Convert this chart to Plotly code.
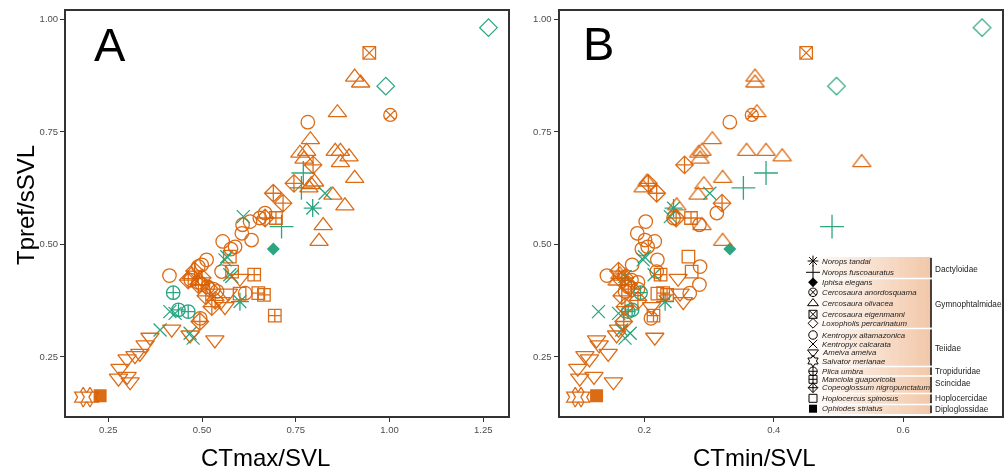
import plotly.graph_objects as go

# ---------------- data (per species) ----------------
# y = Tpref/sSVL, ctmax = CTmax/SVL, ctmin = CTmin/SVL
tandai_tpref = [0.580, 0.372]
tandai_ctmax = [0.795, 0.601]
tandai_ctmin = [0.245, 0.232]

fusco_tpref = [0.658, 0.625, 0.539]
fusco_ctmax = [0.770, 0.765, 0.712]
fusco_ctmin = [0.388, 0.353, 0.490]

iphisa_tpref = [0.489]
iphisa_ctmax = [0.690]
iphisa_ctmin = [0.332]

anordo_tpref = [0.787]
anordo_ctmax = [1.002]
anordo_ctmin = [0.366]

olivacea_tpref = [0.871, 0.858, 0.792, 0.732, 0.706, 0.706, 0.706, 0.702, 0.694, 0.689, 0.681,
                  0.646, 0.638, 0.632, 0.625, 0.609, 0.585, 0.541, 0.506, 0.432, 0.418]
olivacea_ctmax = [0.907, 0.923, 0.861, 0.789, 0.779, 0.855, 0.869, 0.761, 0.892, 0.772, 0.869,
                  0.907, 0.800, 0.791, 0.785, 0.849, 0.881, 0.823, 0.812, 0.472, 0.494]
olivacea_ctmin = [0.371, 0.371, 0.374, 0.305, 0.289, 0.358, 0.388, 0.284, 0.413, 0.286, 0.536,
                  0.321, 0.204, 0.292, 0.198, 0.283, 0.250, 0.289, 0.321, 0.162, 0.158]

eigen_tpref = [0.925]
eigen_ctmax = [0.946]
eigen_ctmin = [0.450]

loxo_tpref = [0.981, 0.851]
loxo_ctmax = [1.264, 0.990]
loxo_ctmin = [0.722, 0.497]

altam_tpref = [0.771, 0.569, 0.558, 0.550, 0.543, 0.524, 0.509, 0.506, 0.494, 0.489, 0.465, 0.454,
               0.450, 0.439, 0.430, 0.420, 0.415, 0.410, 0.405, 0.400, 0.395, 0.391, 0.335]
altam_ctmax = [0.782, 0.668, 0.654, 0.628, 0.608, 0.606, 0.632, 0.555, 0.588, 0.577, 0.512, 0.499,
               0.490, 0.552, 0.413, 0.470, 0.490, 0.500, 0.515, 0.530, 0.540, 0.615, 0.495]
altam_ctmin = [0.332, 0.312, 0.245, 0.202, 0.285, 0.189, 0.201, 0.216, 0.205, 0.196, 0.220, 0.181,
               0.286, 0.219, 0.142, 0.180, 0.190, 0.285, 0.175, 0.190, 0.170, 0.270, 0.210]

calc_tpref = [0.613, 0.561, 0.472, 0.465, 0.432, 0.428, 0.350, 0.346, 0.309, 0.302, 0.291]
calc_ctmax = [0.828, 0.610, 0.566, 0.561, 0.574, 0.579, 0.414, 0.428, 0.388, 0.468, 0.476]
calc_ctmin = [0.301, 0.240, 0.200, 0.198, 0.215, 0.170, 0.129, 0.160, 0.165, 0.178, 0.170]

ameiva_tpref = [0.424, 0.391, 0.372, 0.361, 0.311, 0.298, 0.293, 0.287, 0.276, 0.257, 0.252,
                0.245, 0.224, 0.206, 0.202, 0.194]
ameiva_ctmax = [0.601, 0.570, 0.550, 0.561, 0.419, 0.468, 0.361, 0.534, 0.348, 0.334, 0.321,
                0.300, 0.281, 0.300, 0.277, 0.308]
ameiva_ctmin = [0.252, 0.255, 0.260, 0.211, 0.160, 0.157, 0.216, 0.126, 0.130, 0.144, 0.108,
                0.115, 0.097, 0.122, 0.100, 0.152]

salvator_tpref = [0.160, 0.160]
salvator_ctmax = [0.183, 0.201]
salvator_ctmin = [0.093, 0.102]

plica_tpref = [0.392, 0.354, 0.350]
plica_ctmax = [0.423, 0.437, 0.463]
plica_ctmin = [0.194, 0.181, 0.175]

manciola_tpref = [0.558, 0.432, 0.391, 0.387, 0.341]
manciola_ctmax = [0.697, 0.639, 0.650, 0.665, 0.694]
manciola_ctmin = [0.272, 0.225, 0.229, 0.235, 0.214]

copeo_tpref = [0.676, 0.635, 0.613, 0.591, 0.558, 0.440, 0.425, 0.420, 0.410, 0.400, 0.385,
               0.375, 0.361, 0.328]
copeo_ctmax = [0.796, 0.745, 0.690, 0.716, 0.668, 0.480, 0.500, 0.463, 0.490, 0.520, 0.510,
               0.535, 0.526, 0.494]
copeo_ctmin = [0.262, 0.206, 0.219, 0.320, 0.249, 0.160, 0.170, 0.165, 0.175, 0.180, 0.165,
               0.190, 0.170, 0.168]

hoplo_tpref = [0.472, 0.439, 0.390]
hoplo_ctmax = [0.574, 0.580, 0.600]
hoplo_ctmin = [0.268, 0.273, 0.220]

ophiodes_tpref = [0.163]
ophiodes_ctmax = [0.228]
ophiodes_ctmin = [0.126]

species_names = ["Norops tandai", "Norops fuscoauratus", "Iphisa elegans", "Cercosaura anordosquama",
                 "Cercosaura olivacea", "Cercosaura eigenmanni", "Loxopholis percarinatum",
                 "Kentropyx altamazonica", "Kentropyx calcarata", "Ameiva ameiva", "Salvator merianae",
                 "Plica umbra", "Manciola guaporicola", "Copeoglossum nigropunctatum",
                 "Hoplocercus spinosus", "Ophiodes striatus"]
families = ["Dactyloidae", "Gymnophtalmidae", "Teiidae", "Tropiduridae", "Scincidae",
            "Hoplocercidae", "Diploglossidae"]

xaxis_ticks_a = [0.25, 0.50, 0.75, 1.00, 1.25]
xaxis_ticks_b = [0.2, 0.4, 0.6]
yaxis_ticks = [0.25, 0.50, 0.75, 1.00]

# ---------------- styles ----------------
ORANGE = "#D95F02"
TEAL = "#1B9E77"
# (data..., symbol, colour, plot size, legend size)
series = [
    (tandai_tpref, tandai_ctmax, tandai_ctmin, "asterisk-open", TEAL, 15, 9),
    (fusco_tpref, fusco_ctmax, fusco_ctmin, "cross-thin-open", TEAL, 17, 10),
    (iphisa_tpref, iphisa_ctmax, iphisa_ctmin, "diamond", TEAL, 10, 7.5),
    (anordo_tpref, anordo_ctmax, anordo_ctmin, "circle-x-open", ORANGE, 13, 8.5),
    (olivacea_tpref, olivacea_ctmax, olivacea_ctmin, "triangle-up-open", ORANGE, 16, 9.5),
    (eigen_tpref, eigen_ctmax, eigen_ctmin, "square-x-open", ORANGE, 12.5, 8),
    (loxo_tpref, loxo_ctmax, loxo_ctmin, "diamond-open", TEAL, 13.5, 7.5),
    (altam_tpref, altam_ctmax, altam_ctmin, "circle-open", ORANGE, 13.5, 8.5),
    (calc_tpref, calc_ctmax, calc_ctmin, "x-thin-open", TEAL, 13, 8.5),
    (ameiva_tpref, ameiva_ctmax, ameiva_ctmin, "triangle-down-open", ORANGE, 16, 9.5),
    (salvator_tpref, salvator_ctmax, salvator_ctmin, "hexagram-open", ORANGE, 15, 9),
    (plica_tpref, plica_ctmax, plica_ctmin, "circle-cross-open", TEAL, 13.5, 8.5),
    (manciola_tpref, manciola_ctmax, manciola_ctmin, "square-cross-open", ORANGE, 12.5, 8),
    (copeo_tpref, copeo_ctmax, copeo_ctmin, "diamond-cross-open", ORANGE, 13.5, 7.5),
    (hoplo_tpref, hoplo_ctmax, hoplo_ctmin, "square-open", ORANGE, 12.5, 8),
    (ophiodes_tpref, ophiodes_ctmax, ophiodes_ctmin, "square", ORANGE, 13, 8),
]

W, H = 1008, 472
def px(x):
    return x / W
def py(y):
    return 1 - y / H

fig = go.Figure()
for tp, cmax, cmin, sym, col, sz, _ in series:
    filled = not sym.endswith("open")
    mk = dict(symbol=sym, size=sz, color=col, line=dict(color=col, width=0 if filled else 1.3))
    fig.add_trace(go.Scatter(x=cmax, y=tp, mode="markers", marker=mk, opacity=0.92,
                             xaxis="x", yaxis="y", showlegend=False, hoverinfo="skip"))
    fig.add_trace(go.Scatter(x=cmin, y=tp, mode="markers", marker=mk, opacity=0.92,
                             xaxis="x2", yaxis="y2", showlegend=False, hoverinfo="skip"))

# ---------------- custom legend (pixel overlay axis) ----------------
row_y = [261, 272.3, 282.3, 292.3, 303.3, 314.3, 323.3, 335, 344, 352.3, 361, 371.3, 379.3, 387.7, 398.3, 408.7]
leg_left, leg_right, leg_top, leg_bot = 808, 931, 257, 414

shapes = []
nstrip = 41
for i in range(nstrip):
    t = i / (nstrip - 1)
    r = round(255 + (242 - 255) * t)
    g = round(253 + (200 - 253) * t)
    b = round(251 + (170 - 251) * t)
    x0 = leg_left + (leg_right - leg_left) * i / nstrip
    x1 = leg_left + (leg_right - leg_left) * (i + 1) / nstrip + 0.6
    shapes.append(dict(type="rect", xref="paper", yref="paper", x0=px(x0), x1=px(x1),
                       y0=py(leg_bot), y1=py(leg_top), line=dict(width=0),
                       fillcolor=f"rgb({r},{g},{b})", layer="below"))
for sep in [278.5, 328.5, 366.5, 376, 393.5, 404.5]:
    shapes.append(dict(type="line", xref="paper", yref="paper", x0=px(leg_left), x1=px(leg_right),
                       y0=py(sep), y1=py(sep), line=dict(color="white", width=1.5), layer="below"))

fam_spans = [(258, 277.5, 269), (279.5, 327.5, 304), (329.5, 365.5, 348), (367.5, 375, 371),
             (377, 392.5, 383), (394.5, 403, 398.5), (405.5, 413, 409)]
annotations = []
for fam, (y0, y1, yc) in zip(families, fam_spans):
    shapes.append(dict(type="line", xref="paper", yref="paper", x0=px(931), x1=px(931),
                       y0=py(y0), y1=py(y1), line=dict(color="#111", width=1.5)))
    annotations.append(dict(text=fam, x=px(933), y=py(yc), xref="paper", yref="paper",
                            xanchor="left", yanchor="middle", showarrow=False,
                            font=dict(family="Liberation Sans", size=8.2, color="#222")))

for name, yy in zip(species_names, row_y):
    annotations.append(dict(text=f"<i>{name}</i>", x=px(820), y=py(yy), xref="paper", yref="paper",
                            xanchor="left", yanchor="middle", showarrow=False,
                            font=dict(family="Liberation Sans", size=7.8, color="#222")))

for s, yy in zip(series, row_y):
    sym, lsz = s[3], s[6]
    filled = not sym.endswith("open")
    fig.add_trace(go.Scatter(x=[813], y=[yy], mode="markers", xaxis="x3", yaxis="y3",
                             marker=dict(symbol=sym, size=lsz, color="black",
                                         line=dict(color="black", width=0 if filled else 1)),
                             showlegend=False, hoverinfo="skip"))

# titles and panel letters
title_font = dict(family="Liberation Sans", size=24, color="black")
annotations += [
    dict(text="Tpref/sSVL", x=px(25), y=py(205), xref="paper", yref="paper", textangle=-90,
         showarrow=False, font=title_font, xanchor="center", yanchor="middle"),
    dict(text="CTmax/SVL", x=px(265), y=py(457), xref="paper", yref="paper",
         showarrow=False, font=title_font, xanchor="center", yanchor="middle"),
    dict(text="CTmin/SVL", x=px(754), y=py(457), xref="paper", yref="paper",
         showarrow=False, font=title_font, xanchor="center", yanchor="middle"),
    dict(text="A", x=px(110), y=py(45), xref="paper", yref="paper",
         showarrow=False, font=dict(family="Liberation Sans", size=47, color="black"),
         xanchor="center", yanchor="middle"),
    dict(text="B", x=px(598), y=py(44), xref="paper", yref="paper",
         showarrow=False, font=dict(family="Liberation Sans", size=47, color="black"),
         xanchor="center", yanchor="middle"),
]

ax_common = dict(showline=True, mirror=True, linecolor="#333", linewidth=2, ticks="outside",
                 ticklen=4, tickwidth=1.2, tickcolor="#333", showgrid=False, zeroline=False,
                 tickfont=dict(family="Liberation Sans", size=9.5, color="#4D4D4D"))
ydom = [py(416), py(11)]

fig.update_layout(
    width=W, height=H, margin=dict(l=0, r=0, t=0, b=0),
    paper_bgcolor="white", plot_bgcolor="rgba(0,0,0,0)",
    xaxis=dict(domain=[px(66), px(508)], range=[0.137, 1.316], anchor="y",
               tickvals=xaxis_ticks_a, ticktext=[f"{v:.2f}" for v in xaxis_ticks_a], **ax_common),
    yaxis=dict(domain=ydom, range=[0.118, 1.018], anchor="x",
               tickvals=yaxis_ticks, ticktext=[f"{v:.2f}" for v in yaxis_ticks], **ax_common),
    xaxis2=dict(domain=[px(559.5), px(1001.5)], range=[0.0687, 0.752], anchor="y2",
                tickvals=xaxis_ticks_b, ticktext=[f"{v:.1f}" for v in xaxis_ticks_b], **ax_common),
    yaxis2=dict(domain=ydom, range=[0.118, 1.018], anchor="x2",
                tickvals=yaxis_ticks, ticktext=[f"{v:.2f}" for v in yaxis_ticks], **ax_common),
    xaxis3=dict(domain=[0, 1], range=[0, W], visible=False, anchor="y3"),
    yaxis3=dict(domain=[0, 1], range=[H, 0], visible=False, anchor="x3"),
    shapes=shapes, annotations=annotations, showlegend=False,
)

fig.write_html("out.html")
